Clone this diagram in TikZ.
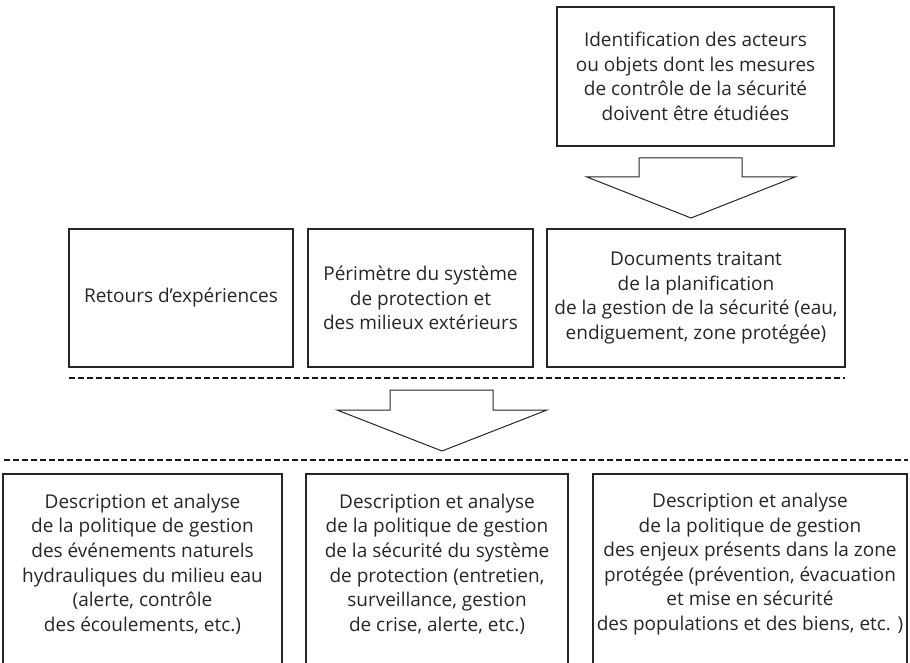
\documentclass[tikz,border=0pt]{standalone}
\usepackage{fontspec}
\setmainfont{Open Sans}
\begin{document}
\begin{tikzpicture}[x=1pt,y=-1pt,
  every node/.style={font=\fontsize{19}{24.6}\selectfont, text=black!85, align=center, inner sep=0pt},
  box/.style={draw=black!85, line width=1.2pt},
  sep/.style={draw=black!90, line width=2.2pt, dash pattern=on 5.5pt off 3.5pt},
  blockarrow/.style={draw=black!85, line width=1pt, fill=white, line join=miter}]
\useasboundingbox (0,0) rectangle (910,663);
\clip (0,0) rectangle (910,663);

% top source box and its arrow
\node[box, minimum width=277pt, minimum height=139pt] (ident) at (695.5,76.5)
  {Identification des acteurs\\ ou objets dont les mesures\\ de contrôle de la sécurité\\ doivent être étudiées};
\draw[blockarrow] (639,158) -- (742,158) -- (742,177) -- (795,177) -- (691,218)
  -- (587,177) -- (639,177) -- cycle;

% middle row of inputs
\node[box, minimum width=224pt, minimum height=138pt] (retours) at (181,298)
  {Retours d’expériences};
\node[box, minimum width=225pt, minimum height=138pt] (perim) at (420.5,298)
  {Périmètre du système\\ de protection et\\ des milieux extérieurs};
\node[box, minimum width=298pt, minimum height=138pt] (docs) at (696,298)
  {Documents traitant\\ de la planification\\ de la gestion de la sécurité (eau,\\ endiguement, zone protégée)};

% dashed separators with the central arrow between them
\coordinate (s1a) at (69,378);
\coordinate (s1b) at (845,378);
\draw[sep] (s1a) -- (s1b);
\draw[blockarrow] (390,390) -- (493,390) -- (493,410) -- (547,410) -- (442,451)
  -- (337,410) -- (390,410) -- cycle;
\coordinate (s2a) at (4,460);
\coordinate (s2b) at (908,460);
\draw[sep] (s2a) -- (s2b);

% bottom row of analyses (boxes run past the lower edge)
\draw[box] (3,474) rectangle (282,700);
\node (ana1) at (142.5,564)
  {Description et analyse\\ de la politique de gestion\\ des événements naturels\\ hydrauliques du milieu eau\\ (alerte, contrôle\\ des écoulements, etc.)};
\draw[box] (306,474) rectangle (568,700);
\node (ana2) at (437,564)
  {Description et analyse\\ de la politique de gestion\\ de la sécurité du système\\ de protection (entretien,\\ surveillance, gestion\\ de crise, alerte, etc.)};
\draw[box] (593,474) rectangle (907,700);
\node (ana3) at (750,564)
  {Description et analyse\\ de la politique de gestion\\ des enjeux présents dans la zone\\ protégée (prévention, évacuation\\ et mise en sécurité\\ des populations et des biens, etc. )};
\end{tikzpicture}
\end{document}
